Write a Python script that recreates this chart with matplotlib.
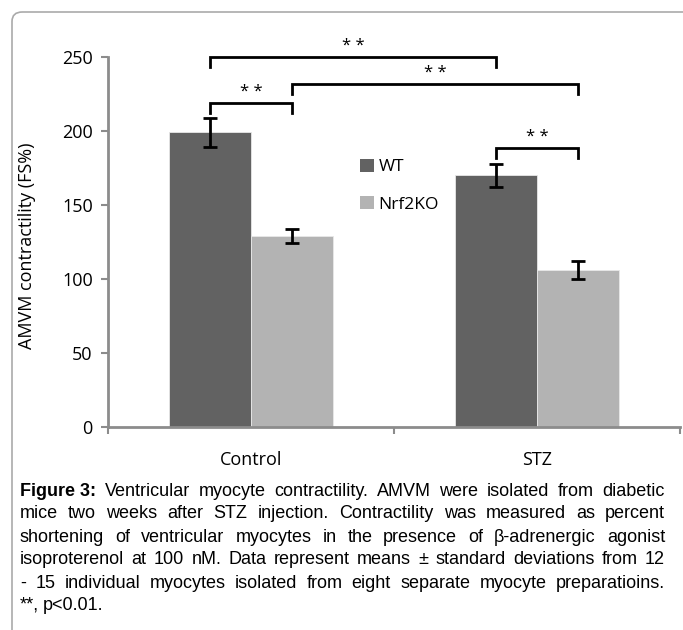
import matplotlib
matplotlib.use("Agg")
import matplotlib.pyplot as plt
import numpy as np
from matplotlib.patches import FancyBboxPatch, Patch

# data
groups = ["Control", "STZ"]
series = ["WT", "Nrf2KO"]
wt_mean = [199, 170]
wt_err = [10, 8]
ko_mean = [129, 106]
ko_err = [4.7, 6]
colors = ["#626262", "#b3b3b3"]
yticks = [0, 50, 100, 150, 200, 250]

# significance brackets: (x1, x2, height)
brackets = [
    (-0.1435, 0.1435, 219),
    (-0.1435, 0.8565, 250),
    (0.1435, 1.1435, 232),
    (0.8565, 1.1435, 188.5),
]

caption = [
    "Ventricular myocyte contractility. AMVM were isolated from diabetic",
    "mice two weeks after STZ injection. Contractility was measured as percent",
    "shortening of ventricular myocytes in the presence of \u03b2-adrenergic agonist",
    "isoproterenol at 100 nM. Data represent means \u00b1 standard deviations from 12",
    "- 15 individual myocytes isolated from eight separate myocyte preparatioins.",
    "**, p<0.01.",
]

W, H = 683, 630
fig = plt.figure(figsize=(W / 100, H / 100), dpi=100)

# rounded frame, open to the right and bottom
frame = FancyBboxPatch((12 / W, -0.2), 1.2, 1 - 12 / H + 0.2,
                       boxstyle="round,pad=0,rounding_size=0.015",
                       transform=fig.transFigure, fill=False,
                       edgecolor="#aaaaaa", lw=1.2)
fig.patches.append(frame)

ax = fig.add_axes([108 / W, 1 - 427 / H, (680 - 108) / W, (427 - 57) / H])
x = np.arange(len(groups))
bw = 0.287
ekw = dict(ecolor="black", elinewidth=2, capsize=5, capthick=2)
ax.bar(x - bw / 2, wt_mean, bw, yerr=wt_err, color=colors[0],
       edgecolor="#e8e8e8", linewidth=0.6, error_kw=ekw, label=series[0])
ax.bar(x + bw / 2, ko_mean, bw, yerr=ko_err, color=colors[1],
       edgecolor="#e8e8e8", linewidth=0.6, error_kw=ekw, label=series[1])

ax.set_xlim(-0.5, 1.5)
ax.set_ylim(0, 250)
ax.set_yticks(yticks)
ax.set_xticks([-0.5, 0.5, 1.5], minor=False)
ax.set_xticklabels([])
ax.set_xticks(x, minor=True)
ax.set_xticklabels(groups, minor=True)
ax.tick_params(axis="x", which="minor", length=0, pad=17, labelsize=13)
ax.tick_params(axis="x", which="major", length=5, color="#8c8c8c", width=1.5)
ax.tick_params(axis="y", length=5, color="#8c8c8c", width=1.5, labelsize=13, pad=6)
for lab in ax.get_xticklabels(minor=True) + ax.get_yticklabels():
    lab.set_family("Open Sans")
for s in ["top", "right"]:
    ax.spines[s].set_visible(False)
for s in ["left", "bottom"]:
    ax.spines[s].set_color("#8c8c8c")
    ax.spines[s].set_linewidth(2)
ax.set_ylabel("AMVM contractility (FS%)", family="Open Sans", fontsize=13)
ax.yaxis.set_label_coords(-0.125, 0.49)

drop = 7
for x1, x2, h in brackets:
    ax.plot([x1, x1, x2, x2], [h - drop, h, h, h - drop], color="black",
            lw=2, clip_on=False, solid_joinstyle="miter")
    ax.text((x1 + x2) / 2, h + 2, "* *", ha="center", va="bottom",
            fontsize=12, family="Open Sans", clip_on=False)

handles = [Patch(facecolor=colors[0]), Patch(facecolor=colors[1])]
ax.legend(handles, series, loc="upper left", bbox_to_anchor=(344 / W, 1 - 143 / H),
          bbox_transform=fig.transFigure, frameon=False, handlelength=0.8,
          handleheight=0.8, handletextpad=0.3, labelspacing=1.2,
          prop={"family": "Open Sans", "size": 12.5})

# caption, justified by placing each word
fig.canvas.draw()
renderer = fig.canvas.get_renderer()
left, right = 20, 665
ys = [491, 514, 537, 560, 583, 605]
fs = 13
for i, (line, yp) in enumerate(zip(caption, ys)):
    words = []
    if i == 0:
        words.append(("Figure 3:", "bold"))
    words += [(w, "normal") for w in line.split(" ")]
    txts = []
    for w, wt in words:
        t = fig.text(0, 1 - yp / H, w, fontsize=fs, family="Liberation Sans",
                     weight=wt, va="center", ha="left")
        txts.append(t)
    widths = [t.get_window_extent(renderer).width for t in txts]
    if i < len(caption) - 1:
        gap = (right - left - sum(widths)) / (len(words) - 1)
    else:
        gap = 4
    xp = left
    for t, wd in zip(txts, widths):
        t.set_x(xp / W)
        xp += wd + gap

fig.savefig("out.png", dpi=100)
